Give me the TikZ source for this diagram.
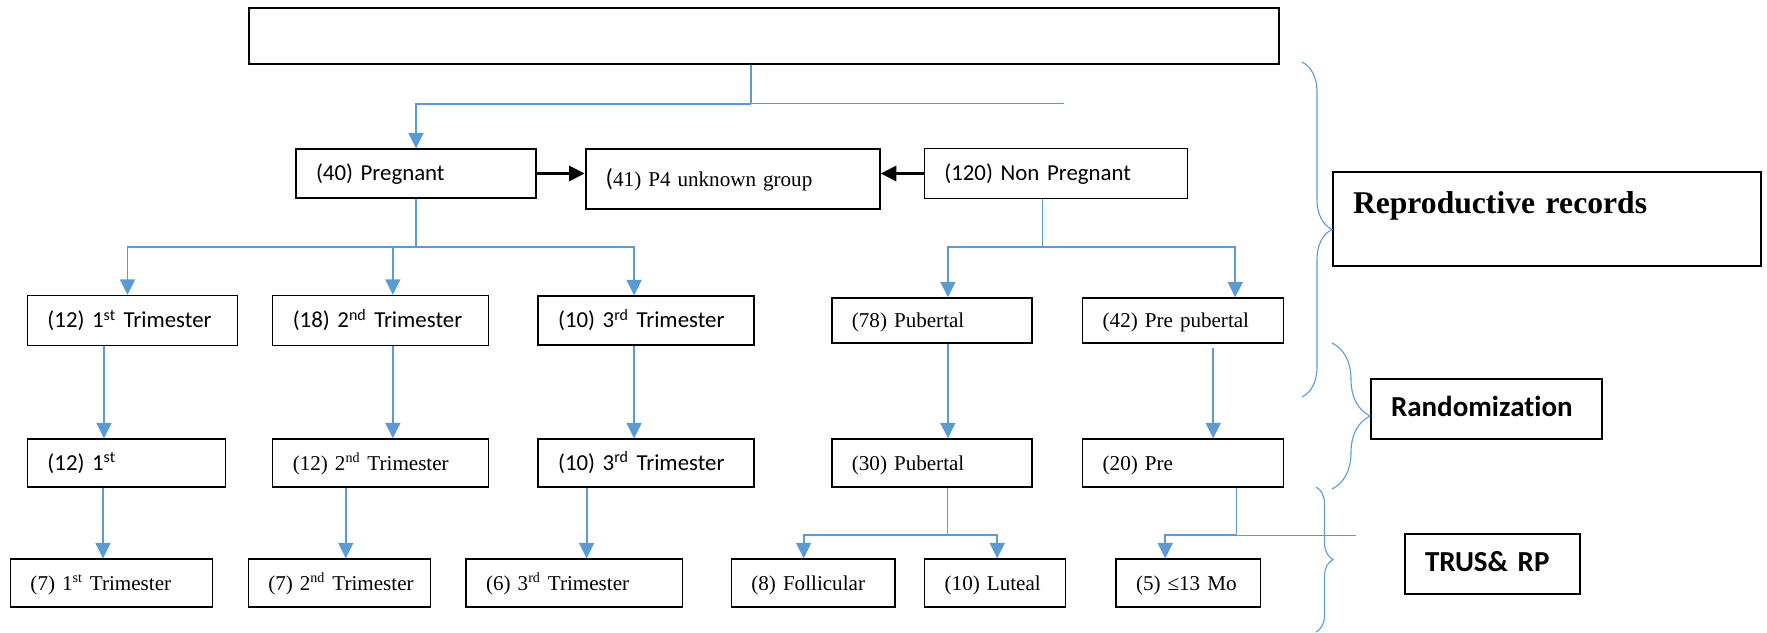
\documentclass[tikz,border=0pt]{standalone}
\usepackage{fontspec}
\setmainfont{Liberation Serif}
\newfontfamily\calibri[Ligatures=NoCommon]{Carlito}
\usepackage{xcolor}
\usetikzlibrary{positioning, arrows.meta, decorations.pathreplacing}
\definecolor{myblue}{HTML}{5B9BD5}

\begin{document}
\begin{tikzpicture}[
  x=1mm, y=1mm,
  font=\fontsize{12}{14}\selectfont,
  box/.style={rectangle, draw=black, line width=0.26mm, inner xsep=4mm, inner ysep=0pt,
    align=left, text height=4.2mm, text depth=1.2mm, minimum height=9.6mm,
    execute at begin node=\hbox\bgroup, execute at end node=\egroup},
  cal/.style={font=\calibri\fontsize{13}{15}\selectfont},
  tag/.style={box, line width=0.42mm, minimum height=12mm,
    font=\calibri\bfseries\fontsize{16.5}{19}\selectfont},
  link/.style={myblue, line width=0.22mm},
  arr/.style={-{Triangle[length=3.1mm, width=3mm]}, myblue, line width=0.38mm},
  push/.style={-{Triangle[length=3.1mm, width=3mm]}, black, line width=0.6mm},
  curly/.style={myblue, line width=0.22mm, decorate, decoration={brace, amplitude=#1}}
]
\useasboundingbox (0,0) rectangle (353.4,-126.6);

% top row
\node[draw, line width=0.26mm, minimum width=206mm, minimum height=11.2mm] (top) at (152.8,-7.2) {};
\node[box, cal, text width=40mm, minimum height=9.8mm] (preg) at (83.2,-34.7) {(40) Pregnant};
\node[box, text width=50.8mm, minimum height=12mm, line width=0.42mm, right=9.6mm of preg, yshift=-1.1mm] (unknown)
  {{\calibri\fontsize{14}{16}\selectfont(}41) P4 unknown group};
\node[box, cal, text width=44.6mm, minimum height=10mm, right=8.6mm of unknown, yshift=1.1mm] (nonpreg) {(120) Non Pregnant};

% groups
\node[box, cal, text width=34mm, minimum height=10mm] (tri1) at (26.5,-64.1) {(12) 1\textsuperscript{st} Trimester};
\node[box, cal, text width=35.2mm, minimum height=10mm, right=6.8mm of tri1] (tri2) {(18) 2\textsuperscript{nd} Trimester};
\node[box, cal, text width=35.2mm, minimum height=9.8mm, right=9.6mm of tri2] (tri3) {(10) 3\textsuperscript{rd} Trimester};
\node[box, text width=32mm, minimum height=9mm, right=15.3mm of tri3] (pub) {(78) Pubertal};
\node[box, text width=32.2mm, minimum height=9mm, right=9.9mm of pub] (prepub) {(42) Pre pubertal};

% randomized
\node[box, cal, text width=31.6mm] (rtri1) at (25.3,-92.6) {(12) 1\textsuperscript{st}};
\node[box, text width=35.2mm, right=9.2mm of rtri1] (rtri2) {(12) 2\textsuperscript{nd} Trimester};
\node[box, cal, text width=35.2mm, right=9.6mm of rtri2] (rtri3) {(10) 3\textsuperscript{rd} Trimester};
\node[box, text width=32mm, right=15.3mm of rtri3] (rpub) {(30) Pubertal};
\node[box, text width=32.2mm, right=9.9mm of rpub] (rpre) {(20) Pre};

% examined
\node[box, text width=32.4mm] (ftri1) at (22.3,-116.6) {(7) 1\textsuperscript{st} Trimester};
\node[box, text width=28.5mm, right=6.9mm of ftri1] (ftri2) {(7) 2\textsuperscript{nd} Trimester};
\node[box, text width=35.3mm, right=6.8mm of ftri2] (ftri3) {(6) 3\textsuperscript{rd} Trimester};
\node[box, text width=24.7mm, right=9.5mm of ftri3] (foll) {(8) Follicular};
\node[box, text width=20.2mm, right=5.7mm of foll] (lut) {(10) Luteal};
\node[box, text width=20.9mm, right=9.8mm of lut] (young) {(5) ≤13 Mo};

% stage labels
\node[tag, text width=77.6mm, minimum height=18.8mm, font=\bfseries\fontsize{18}{21}\selectfont,
  text height=4.4mm, text depth=6.4mm] (recs) at (309.4,-43.8) {Reproductive records};
\node[tag, text width=38.2mm] (rand) at (297.3,-81.8) {Randomization};
\node[tag, text width=27mm] (trus) at (298.5,-112.8) {TRUS\& RP};

% split points
\coordinate (hub) at ([xshift=-2.6mm, yshift=-7.8mm]top.south);
\coordinate (hubend) at ([xshift=62.6mm]hub);
\coordinate (pgsplit) at ([yshift=-9.7mm]preg.south);
\coordinate (npsplit) at ([xshift=-2.7mm, yshift=-9.5mm]nonpreg.south);
\coordinate (pbsplit) at ([xshift=3.2mm, yshift=-9.4mm]rpub.south);
\coordinate (prsplit) at ([xshift=10.6mm, yshift=-9.5mm]rpre.south);
\coordinate (prend) at ([xshift=24mm]prsplit);

\draw[link] ([xshift=-2.6mm]top.south) -- (hub);
\draw[link, line width=0.3mm] (hub) -- (hubend);
\draw[arr] (hub) -| (preg.north);
\draw[push] (preg.east) -- (preg.east -| unknown.west);
\draw[push] (nonpreg.west) -- (nonpreg.west -| unknown.east);

\draw[link] (preg.south) -- (pgsplit);
\draw[arr] (pgsplit) -| ([xshift=-1mm]tri1.north);
\draw[arr] (pgsplit) -| ([xshift=2.4mm]tri2.north);
\draw[arr] (pgsplit) -| ([xshift=-2.4mm]tri3.north);
\draw[link] ([xshift=-2.7mm]nonpreg.south) -- (npsplit);
\draw[arr] (npsplit) -| ([xshift=3.2mm]pub.north);
\draw[arr] (npsplit) -| ([xshift=10.4mm]prepub.north);

\draw[arr] ([xshift=-5.7mm]tri1.south) -- ([xshift=-5.7mm]tri1.south |- rtri1.north);
\draw[arr] ([xshift=2.4mm]tri2.south) -- ([xshift=2.4mm]tri2.south |- rtri2.north);
\draw[arr] ([xshift=-2.4mm]tri3.south) -- ([xshift=-2.4mm]tri3.south |- rtri3.north);
\draw[arr] ([xshift=3.2mm]pub.south) -- ([xshift=3.2mm]pub.south |- rpub.north);
\draw[arr] ([xshift=6mm, yshift=-0.8mm]prepub.south) -- ([xshift=6mm]prepub.south |- rpre.north);

\draw[arr] ([xshift=-4.7mm]rtri1.south) -- ([xshift=-4.7mm]rtri1.south |- ftri1.north);
\draw[arr] ([xshift=-7mm]rtri2.south) -- ([xshift=-7mm]rtri2.south |- ftri2.north);
\draw[arr] ([xshift=-11.9mm]rtri3.south) -- ([xshift=-11.9mm]rtri3.south |- ftri3.north);
\draw[link] ([xshift=3.2mm]rpub.south) -- (pbsplit);
\draw[arr] (pbsplit) -| ([xshift=-1.9mm]foll.north);
\draw[arr] (pbsplit) -| ([xshift=0.4mm]lut.north);
\draw[link] ([xshift=10.6mm]rpre.south) -- (prsplit) -- (prend);
\draw[arr] (prsplit) -| ([xshift=-4.6mm]young.north);

% braces
\coordinate (recsA) at (260.4,-12.4);
\coordinate (recsB) at (260.4,-79.4);
\coordinate (randA) at (266.4,-68.6);
\coordinate (randB) at (266.4,-97.8);
\coordinate (trusA) at (263.2,-97.4);
\coordinate (trusB) at (263.2,-126.4);
\draw[curly=6mm] (recsA) -- (recsB);
\draw[curly=7.6mm] (randA) -- (randB);
\draw[curly=3.4mm] (trusA) -- (trusB);
\end{tikzpicture}
\end{document}
